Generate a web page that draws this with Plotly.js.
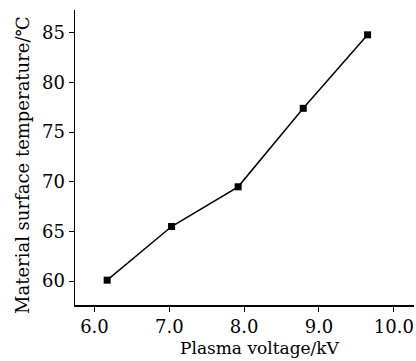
<!DOCTYPE html>
<html>
<head>
<meta charset="utf-8">
<script src="https://cdn.plot.ly/plotly-3.0.1.min.js"></script>
<style>html,body{margin:0;padding:0;background:#fff;}#chart{width:416px;height:361px;}</style>
</head>
<body>
<div id="chart"></div>
<script>
const voltage = [6.17, 7.03, 7.92, 8.79, 9.65];
const temperature = [60.1, 65.5, 69.5, 77.4, 84.8];
const xTicks = [6, 7, 8, 9, 10];
const xTickLabels = ['6.0', '7.0', '8.0', '9.0', '10.0'];
const yTicks = [60, 65, 70, 75, 80, 85];
const xTitle = 'Plasma voltage/kV';
const yTitle = 'Material surface temperature/℃';

const fontFam = 'DejaVu Serif, serif';
Plotly.newPlot('chart', [{
  x: voltage, y: temperature, type: 'scatter', mode: 'lines+markers',
  line: {color: '#000', width: 1.5},
  marker: {symbol: 'square', size: 7, color: '#000'}
}], {
  width: 416, height: 361,
  margin: {l: 75, r: 2, t: 10, b: 56},
  paper_bgcolor: '#fff', plot_bgcolor: '#fff',
  font: {family: fontFam, color: '#000', size: 18},
  showlegend: false,
  xaxis: {
    range: [5.74, 10.27], tickvals: xTicks, ticktext: xTickLabels,
    showgrid: false, zeroline: false, showline: true, linecolor: '#000', linewidth: 1.5,
    ticks: 'outside', ticklen: 5, tickcolor: '#000', tickwidth: 1,
    tickfont: {family: fontFam, size: 18}
  },
  yaxis: {
    range: [57.6, 87.3], tickvals: yTicks,
    showgrid: false, zeroline: false, showline: true, linecolor: '#000', linewidth: 1.5,
    ticks: 'outside', ticklen: 5, tickcolor: '#000', tickwidth: 1,
    tickfont: {family: fontFam, size: 18}
  },
  annotations: [
    {text: xTitle, xref: 'paper', yref: 'paper', x: 0.546, y: -0.145, xanchor: 'center', yanchor: 'middle',
     showarrow: false, font: {family: fontFam, size: 17, color: '#000'}},
    {text: yTitle, xref: 'paper', yref: 'paper', x: -0.153, y: 0.475, xanchor: 'center', yanchor: 'middle',
     textangle: -90, showarrow: false, font: {family: fontFam, size: 18, color: '#000'}}
  ]
}, {displayModeBar: false, staticPlot: true});
</script>
</body>
</html>
